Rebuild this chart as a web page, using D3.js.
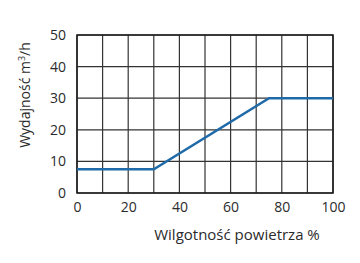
<!DOCTYPE html>
<html>
<head>
<meta charset="utf-8">
<script src="https://cdn.jsdelivr.net/npm/d3@7"></script>
<style>
  body { margin: 0; background: #fff; }
  text { font-family: "Open Sans", sans-serif; fill: #2b2b2b; }
</style>
</head>
<body>
<svg id="svg" width="360" height="263"></svg>
<script>
// dane wykresu
const humidity = [0, 30, 75, 100];
const flow = [7.5, 7.5, 30, 30];
const xTicks = [0, 20, 40, 60, 80, 100];
const yTicks = [0, 10, 20, 30, 40, 50];
const xGrid = [0, 10, 20, 30, 40, 50, 60, 70, 80, 90, 100];
const yGrid = [0, 10, 20, 30, 40, 50];

const svg = d3.select("#svg");
const plotL = 77, plotR = 333, plotT = 35, plotB = 193;

const x = d3.scaleLinear().domain([0, 100]).range([plotL, plotR]);
const y = d3.scaleLinear().domain([0, 50]).range([plotB, plotT]);

// siatka
svg.append("g")
  .selectAll("line")
  .data(xGrid)
  .join("line")
  .attr("x1", (d) => x(d))
  .attr("x2", (d) => x(d))
  .attr("y1", plotT)
  .attr("y2", plotB)
  .attr("stroke", "#333")
  .attr("stroke-width", 1.2);

svg.append("g")
  .selectAll("line")
  .data(yGrid)
  .join("line")
  .attr("x1", plotL)
  .attr("x2", plotR)
  .attr("y1", (d) => y(d))
  .attr("y2", (d) => y(d))
  .attr("stroke", "#333")
  .attr("stroke-width", 1.2);

// ramka
svg.append("rect")
  .attr("x", plotL)
  .attr("y", plotT)
  .attr("width", plotR - plotL)
  .attr("height", plotB - plotT)
  .attr("fill", "none")
  .attr("stroke", "#1a1a1a")
  .attr("stroke-width", 1.5);

// osie
const xAxis = svg.append("g")
  .attr("transform", `translate(0,${plotB})`)
  .call(d3.axisBottom(x).tickValues(xTicks).tickSize(0).tickPadding(9));
const yAxis = svg.append("g")
  .attr("transform", `translate(${plotL},0)`)
  .call(d3.axisLeft(y).tickValues(yTicks).tickSize(0).tickPadding(11));
[xAxis, yAxis].forEach((a) => {
  a.select(".domain").remove();
  a.selectAll("text").attr("font-size", 14).attr("font-family", "Open Sans, sans-serif").attr("fill", "#2b2b2b");
});

// linia wydajności
const line = d3.line().x((d, i) => x(humidity[i])).y((d) => y(d));
svg.append("path")
  .attr("d", line(flow))
  .attr("fill", "none")
  .attr("stroke", "#1f6aa8")
  .attr("stroke-width", 2.5);

// opisy osi
svg.append("text")
  .attr("x", 237)
  .attr("y", 240)
  .attr("text-anchor", "middle")
  .attr("font-size", 15)
  .text("Wilgotność powietrza %");

svg.append("text")
  .attr("transform", "translate(30,95) rotate(-90)")
  .attr("text-anchor", "middle")
  .attr("font-size", 14)
  .html('Wydajność m<tspan dy="-5" font-size="9">3</tspan><tspan dy="5">/h</tspan>');
</script>
</body>
</html>
